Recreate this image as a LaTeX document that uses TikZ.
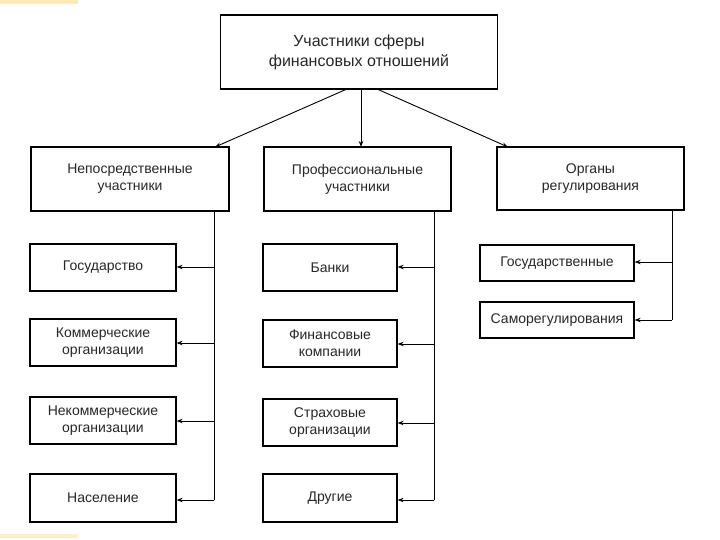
\documentclass[tikz,border=0pt]{standalone}
\usepackage{fontspec}
\setmainfont{Liberation Sans}
\usetikzlibrary{arrows.meta}
\begin{document}
\begin{tikzpicture}[x=1pt,y=-1pt,
  box/.style={draw=black,line width=1.3pt,inner sep=0pt,align=center,font=\fontsize{14}{17}\selectfont,text=black!85},
  topbox/.style={box,font=\fontsize{16}{20}\selectfont},
  arr/.style={line width=0.9pt,-{Stealth[length=6pt,width=4.5pt]}},
  ln/.style={line width=0.9pt}]
\useasboundingbox (0,0) rectangle (720,540);
\fill[yellow!40!orange!25] (0,0) rectangle (78,4);
\fill[yellow!40!orange!20] (0,534) rectangle (78,538);
% top
\node[topbox,minimum width=277pt,minimum height=74pt] (top) at (359,52) {Участники сферы\\финансовых отношений};
% row 2
\node[box,minimum width=198pt,minimum height=64pt] (dir) at (130,179) {Непосредственные\\участники};
\node[box,minimum width=187pt,minimum height=64pt] (pro) at (357.5,179) {Профессиональные\\участники};
\node[box,minimum width=187pt,minimum height=63pt] (reg) at (590.5,178.5) {Органы\\регулирования};
\draw[arr] (347,89) -- (215,147);
\draw[arr] (361,89) -- (361,147);
\draw[arr] (377,89) -- (508,147);
% left column
\node[box,minimum width=146pt,minimum height=47pt] (gos) at (103,267.5) {Государство};
\node[box,minimum width=146pt,minimum height=47pt] (kom) at (103,342.5) {Коммерческие\\организации};
\node[box,minimum width=146pt,minimum height=47pt] (nek) at (103,420.5) {Некоммерческие\\организации};
\node[box,minimum width=146pt,minimum height=48pt] (nas) at (103,498) {Население};
\coordinate (lv1) at (214,211);
\coordinate (lv2) at (214,500);
\draw[ln] (lv1) -- (lv2);
\draw[arr] (214,267) -- (gos.east |- 0,267);
\draw[arr,line width=0.6pt] (214,343) -- (kom.east |- 0,343);
\draw[arr] (214,421) -- (nek.east |- 0,421);
\draw[arr] (lv2) -- (nas.east |- 0,500);
% middle column
\node[box,minimum width=134pt,minimum height=47pt] (ban) at (330,267.5) {Банки};
\node[box,minimum width=134pt,minimum height=47pt] (fin) at (330,343.5) {Финансовые\\компании};
\node[box,minimum width=134pt,minimum height=47pt] (str) at (330,422.5) {Страховые\\организации};
\node[box,minimum width=134pt,minimum height=48pt] (dru) at (330,498) {Другие};
\coordinate (mv1) at (434,211);
\coordinate (mv2) at (434,500);
\draw[ln] (mv1) -- (mv2);
\draw[arr] (434,267) -- (ban.east |- 0,267);
\draw[arr] (434,344) -- (fin.east |- 0,344);
\draw[arr] (434,423) -- (str.east |- 0,423);
\draw[arr] (mv2) -- (dru.east |- 0,500);
% right column
\node[box,minimum width=154pt,minimum height=36pt] (rgos) at (557,263) {Государственные};
\node[box,minimum width=154pt,minimum height=36pt] (rsam) at (557,320) {Саморегулирования};
\coordinate (rv1) at (672,210);
\coordinate (rv2) at (672,320);
\draw[ln] (rv1) -- (rv2);
\draw[arr] (672,262) -- (rgos.east |- 0,262);
\draw[arr] (rv2) -- (rsam.east);
\end{tikzpicture}
\end{document}
